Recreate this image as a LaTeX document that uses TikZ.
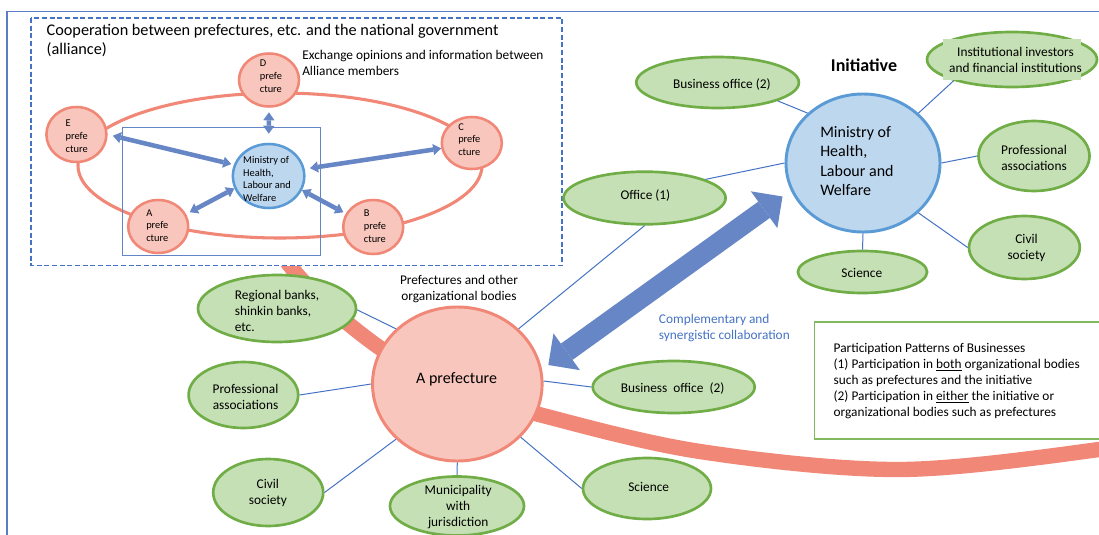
\documentclass[tikz,border=0pt]{standalone}
\usepackage{fontspec}
\setmainfont{Carlito}
\usetikzlibrary{shapes.geometric,arrows.meta,calc}
\definecolor{salmon}{RGB}{241,135,118}
\definecolor{pinkfill}{RGB}{248,198,188}
\definecolor{bluefill}{RGB}{189,215,238}
\definecolor{blueline}{RGB}{91,155,213}
\definecolor{greenfill}{RGB}{197,224,180}
\definecolor{greenline}{RGB}{112,173,71}
\definecolor{connc}{RGB}{68,114,196}
\definecolor{rectc}{RGB}{100,132,200}
\definecolor{arrowblue}{RGB}{103,134,197}
\definecolor{frameblue}{RGB}{91,125,200}
\definecolor{legendline}{RGB}{130,185,95}
\newcommand\fsz[2]{\fontsize{#1}{#2}\selectfont}
\begin{document}
\begin{tikzpicture}[x=0.75pt,y=-0.75pt,
  rxy/.style 2 args={minimum width=#1*1.5pt, minimum height=#2*1.5pt},
  gell/.style={ellipse, draw=greenline, fill=greenfill, line width=2pt, inner sep=0pt},
  pcirc/.style={ellipse, draw=salmon, fill=pinkfill, line width=1.9pt, inner sep=0pt},
  bcirc/.style={ellipse, draw=blueline, fill=bluefill, line width=1.9pt, inner sep=0pt},
  cline/.style={draw=connc, line width=0.75pt},
  sarr/.style={draw=arrowblue, line width=3.4pt,
    {Triangle[width=8.5pt,length=6pt,line width=0pt]}-{Triangle[width=8.5pt,length=6pt,line width=0pt]}},
  barr/.style={draw=arrowblue, line width=15pt,
    {Triangle[width=34pt,length=17pt,line width=0pt]}-{Triangle[width=34pt,length=17pt,line width=0pt]}},
  txt/.style={inner sep=0pt, text=black},
  gtxt/.style={txt, align=center, font=\fsz{10pt}{12pt}},
  stxt/.style={txt, anchor=west, align=left, font=\fsz{7.8pt}{9.6pt}},
]
\useasboundingbox (0,0) rectangle (1099,535);
\clip (0,0) rectangle (1099,535);

% big salmon band
\draw[salmon, line width=11.5pt, line cap=butt]
  plot[smooth, tension=0.55] coordinates {(220,150) (291,267) (373,343) (455,388) (541,415) (700,451.5) (900,469.5) (1099,449.5) (1140,438)};

% outer frame
\draw[frameblue, line width=1.2pt] (7,540) -- (7,11.5) -- (1110,11.5);

% alliance box
\draw[connc, line width=1.2pt, dash pattern=on 3.75pt off 2pt, fill=white] (31,18) rectangle (562,265.5);
\node[txt, anchor=west, align=left, font=\fsz{12.2pt}{14.25pt}] (title) at (46.4,40.5)
  {Cooperation between prefectures, etc. and the national government\\(alliance)};
\node[txt, anchor=west, align=left, font=\fsz{10pt}{12pt}] (exch) at (302,63)
  {Exchange opinions and information between\\Alliance members};

% ring and inner rectangle
\draw[salmon, line width=2.3pt] (280,165.5) ellipse [x radius=202, y radius=72.5];
\draw[rectc, line width=0.7pt] (122,127) rectangle (320,255);

% small circles
\node[pcirc, rxy={30}{26.5}] (dpref) at (269,80) {};
\node[pcirc, rxy={30}{27.5}] (epref) at (76.4,134.5) {};
\node[pcirc, rxy={30}{26}] (cpref) at (471.8,143) {};
\node[pcirc, rxy={30}{26.5}] (apref) at (158.2,226.5) {};
\node[pcirc, rxy={30}{27}] (bpref) at (373.2,227) {};
\node[bcirc, rxy={35.7}{32}] (mins) at (268.6,176) {};

\node[stxt] (dtxt) at (259.6,76.5) {D\\prefe\\cture};
\node[stxt] (etxt) at (65.4,136.5) {E\\prefe\\cture};
\node[stxt] (ctxt) at (458,139.5) {C\\prefe\\cture};
\node[stxt] (atxt) at (146,225.5) {A\\prefe\\cture};
\node[stxt] (btxt) at (363.6,226) {B\\prefe\\cture};
\node[stxt, font=\fsz{7.8pt}{9.5pt}] (mtxt) at (242.9,179) {Ministry of\\Health,\\Labour and\\Welfare};

% small double arrows
\draw[sarr, shorten <=3.4pt, shorten >=6.75pt] (dpref.south) -- (mins.north);
\draw[sarr, shorten <=4pt, shorten >=2pt] (epref.east) -- (mins.162);
\draw[sarr, shorten <=4pt] (mins.11) -- (cpref.190);
\draw[sarr, shorten <=3pt] (apref.24) -- (mins.200);
\draw[sarr, shorten >=2pt] (mins.-23) -- (bpref.154);

% initiative side
\node[txt, font=\fsz{13.5pt}{16pt}\bfseries] (init) at (864,65.7) {Initiative};
\node[bcirc, line width=2.2pt, rxy={77}{69}] (mhlw) at (863,163) {};
\node[txt, anchor=west, align=left, font=\fsz{12pt}{14.5pt}] (mhlwt) at (820,161) {Ministry of\\Health,\\Labour and\\Welfare};

\node[gell, rxy={81.3}{25.5}] (bo2top) at (717.6,82.5) {};
\node[gell, rxy={85}{27.5}] (inst) at (1012,59.5) {};
\fill[greenfill] (943,39) rectangle (1081,80);
\node[gell, rxy={55.5}{35}] (prof1) at (1034,156) {};
\node[gell, rxy={55.4}{31.5}] (civ1) at (1024.4,247.5) {};
\node[gell, rxy={64.6}{21}] (sci1) at (862.5,272) {};
\node[gell, rxy={81}{26.3}] (off1) at (644.6,198) {};

\node[gtxt] (bo2topt) at (721.9,85) {Business office (2)};
\node[gtxt] (instt) at (1015.5,60) {Institutional investors\\and financial institutions};
\node[gtxt] (prof1t) at (1034,158) {Professional\\associations};
\node[gtxt] (civ1t) at (1026.5,248) {Civil\\society};
\node[gtxt] (sci1t) at (861.8,273) {Science};
\node[gtxt] (off1t) at (645.4,195.7) {Office (1)};

% prefecture side
\node[pcirc, line width=2.2pt, rxy={84.8}{77}] (aprefbig) at (457.3,384) {};
\node[txt, font=\fsz{12pt}{14pt}] (aprefbigt) at (456.6,379) {A prefecture};
\node[gtxt] (prefbod) at (459,289) {Prefectures and other\\organizational bodies};

\node[gell, rxy={79}{33.5}] (rb) at (277,308.5) {};
\node[gell, rxy={54.8}{33}] (prof2) at (243.4,395) {};
\node[gell, rxy={55}{33.5}] (civ2) at (268.2,492.5) {};
\node[gell, rxy={67}{29.5}] (muni) at (457,506) {};
\node[gell, rxy={81}{26}] (bo2bot) at (673.7,387) {};
\node[gell, rxy={64}{30.5}] (sci2) at (647,488.5) {};

\node[txt, anchor=west, align=left, font=\fsz{10pt}{12pt}] (rbt) at (234.6,311) {Regional banks,\\shinkin banks,\\etc.};
\node[gtxt] (prof2t) at (245.5,397) {Professional\\associations};
\node[gtxt] (civ2t) at (267.9,492.5) {Civil\\society};
\node[gtxt] (munit) at (458.2,507.5) {Municipality\\with\\jurisdiction};
\node[gtxt] (bo2bott) at (672.6,389) {Business\ \ office\ \ (2)};
\node[gtxt] (sci2t) at (648.7,487) {Science};

% thin connectors
\draw[cline] (bo2top.-17) -- (mhlw.138);
\draw[cline] (inst.200) -- (mhlw.42);
\draw[cline] (prof1.180) -- (mhlw.0);
\draw[cline] (civ1.180) -- (mhlw.-42);
\draw[cline] (sci1.north) -- (mhlw.south);
\draw[cline] (off1.17) -- (mhlw.180);
\draw[cline] (off1.south) -- (aprefbig.42);
\draw[cline] (rb.-1) -- (aprefbig.138);
\draw[cline] (prof2.0) -- (aprefbig.180);
\draw[cline] (civ2.0) -- (aprefbig.222);
\draw[cline] (muni.north) -- (aprefbig.south);
\draw[cline] (bo2bot.west) -- (aprefbig.2);
\draw[cline] (sci2.west) -- (aprefbig.-40);

% big double arrow
\coordinate (bigA) at (548.3,365);
\coordinate (bigB) at (782.5,196.5);
\draw[barr] (bigA) -- (bigB);
\node[txt, anchor=west, align=left, text=connc, font=\fsz{10pt}{12pt}] (compl) at (658.7,328)
  {Complementary and\\synergistic collaboration};

% legend
\draw[legendline, line width=1pt, fill=white] (814.5,322) rectangle (1110,439);
\node[txt, anchor=west, align=left, font=\fsz{10pt}{12pt}] (legend) at (833.4,381)
  {Participation Patterns of Businesses\\
   (1) Participation in \underline{both} organizational bodies\\
   such as prefectures and the initiative\\
   (2) Participation in \underline{either} the initiative or\\
   organizational bodies such as prefectures};
\end{tikzpicture}
\end{document}
